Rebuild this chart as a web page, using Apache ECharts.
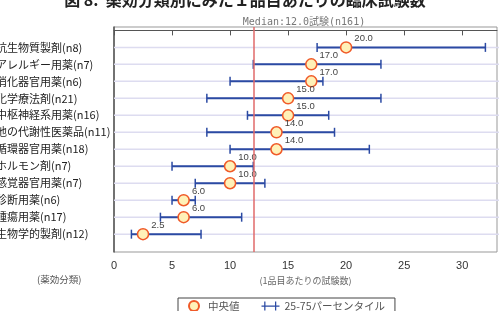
<!DOCTYPE html>
<html>
<head>
<meta charset="utf-8">
<script src="https://cdn.jsdelivr.net/npm/echarts@6/dist/echarts.min.js"></script>
<style>
  html, body { margin: 0; padding: 0; background: #fff; }
  #chart { width: 499px; height: 311px; }
</style>
</head>
<body>
<div id="chart"></div>
<script>
// 薬効分類 (上から順)
const categories = [
  '抗生物質製剤(n8)',
  'アレルギー用薬(n7)',
  '消化器官用薬(n6)',
  '化学療法剤(n21)',
  '中枢神経系用薬(n16)',
  '他の代謝性医薬品(n11)',
  '循環器官用薬(n18)',
  'ホルモン剤(n7)',
  '感覚器官用薬(n7)',
  '診断用薬(n6)',
  '腫瘍用薬(n17)',
  '生物学的製剤(n12)'
]
const medians = [20, 17, 17, 15, 15, 14, 14, 10, 10, 6, 6, 2.5]
const q25 = [17.5, 12, 10, 8, 11.5, 8, 10, 5, 7, 5, 4, 1.5]
const q75 = [32, 23, 18, 23, 18.5, 19, 22, 12, 13, 7, 11, 7.5]
const xTicks = [0, 5, 10, 15, 20, 25, 30]
const overallMedian = 12

const BLUE = '#2b4aa3'
const JP = '"Noto Sans CJK JP", sans-serif'

const chart = echarts.init(document.getElementById('chart'))

const rows = categories.map((c, i) => i + 1)

const option = {
  animation: false,
  title: [
    {
      text: 'Median:12.0試験(n161)',
      left: 299, top: 12, textAlign: 'center',
      textStyle: { fontFamily: '"DejaVu Sans Mono", "Noto Sans CJK JP", monospace', fontSize: 10, fontWeight: 'normal', color: '#777' }
    },
    {
      text: '(薬効分類)',
      left: 32, top: 270,
      textStyle: { fontFamily: JP, fontSize: 9.5, fontWeight: 'normal', color: '#555' }
    }
  ],
  graphic: [
    {
      type: 'text', x: 245, y: 0,
      style: {
        text: '図 8.  薬効分類別にみた１品目あたりの臨床試験数',
        align: 'center', verticalAlign: 'middle',
        font: 'bold 16px "Noto Sans CJK JP", sans-serif', fill: '#222'
      }
    }
  ],
  legend: {
    left: 178, top: 298,
    padding: [2, 10, 6, 10],
    itemGap: 22,
    itemWidth: 18, itemHeight: 10,
    borderColor: '#444', borderWidth: 1,
    textStyle: { fontFamily: JP, fontSize: 10.5, color: '#555' },
    data: [
      { name: '中央値', icon: 'circle' },
      { name: '25-75パーセンタイル', icon: 'path://M0,4.4h20v1.4h-20z M3,0h1.4v10h-1.4z M15,0h1.4v10h-1.4z' }
    ]
  },
  grid: {
    left: 114, right: 2, top: 27, bottom: 59,
    outerBoundsMode: 'none',
    containLabel: false,
    show: true, borderColor: '#999', borderWidth: 1
  },
  xAxis: {
    type: 'value', min: 0, max: 33,
    name: '(1品目あたりの試験数)',
    nameLocation: 'middle', nameGap: 24,
    nameTextStyle: { fontFamily: JP, fontSize: 9, color: '#666' },
    axisLine: { show: true, lineStyle: { color: '#555' } },
    axisTick: { show: true, length: 5, customValues: xTicks, lineStyle: { color: '#555' } },
    axisLabel: { customValues: xTicks, margin: 8, fontSize: 11, color: '#333', fontFamily: 'Liberation Sans, sans-serif' },
    splitLine: { show: false }
  },
  yAxis: {
    type: 'value', inverse: true, min: -0.2, max: 13.05,
    axisLine: { show: true, lineStyle: { color: '#555', width: 1.5 } },
    axisTick: { show: false },
    splitLine: { show: false },
    axisLabel: {
      customValues: rows,
      align: 'left', margin: 118,
      fontFamily: JP, fontSize: 11, color: '#222',
      formatter: v => categories[v - 1] || ''
    }
  },
  series: [
    {
      // 横の補助線 + 全体中央値
      type: 'custom', z: 1, silent: true,
      data: rows.map(r => [r]),
      encode: { y: 0 },
      renderItem(params, api) {
        const cs = params.coordSys
        const y = api.coord([0, api.value(0)])[1]
        return {
          type: 'line',
          shape: { x1: cs.x, y1: y, x2: cs.x + cs.width + 2, y2: y },
          style: { stroke: '#dddcf0', lineWidth: 1.5 }
        }
      },
      markLine: {
        silent: true, symbol: 'none',
        label: { show: false },
        lineStyle: { color: '#e06a6a', width: 1.5, type: 'solid' },
        data: [{ xAxis: overallMedian }]
      }
    },
    {
      name: '25-75パーセンタイル',
      type: 'custom', z: 3,
      itemStyle: { color: BLUE },
      data: rows.map((r, i) => [r, q25[i], q75[i]]),
      encode: { y: 0, x: [1, 2] },
      renderItem(params, api) {
        const r = api.value(0)
        const a = api.coord([api.value(1), r])
        const b = api.coord([api.value(2), r])
        const h = 4.5
        return {
          type: 'group',
          children: [
            { type: 'line', shape: { x1: a[0], y1: a[1], x2: b[0], y2: b[1] }, style: { stroke: BLUE, lineWidth: 2 } },
            { type: 'line', shape: { x1: a[0], y1: a[1] - h, x2: a[0], y2: a[1] + h }, style: { stroke: BLUE, lineWidth: 1.5 } },
            { type: 'line', shape: { x1: b[0], y1: b[1] - h, x2: b[0], y2: b[1] + h }, style: { stroke: BLUE, lineWidth: 1.5 } }
          ]
        }
      }
    },
    {
      name: '中央値',
      type: 'scatter', z: 4,
      symbol: 'circle', symbolSize: 11,
      itemStyle: { color: '#fff1b8', borderColor: '#f05a28', borderWidth: 1.5, opacity: 1 },
      data: rows.map((r, i) => [medians[i], r]),
      label: {
        show: true, position: 'right', offset: [-3, -9],
        fontSize: 9.5, color: '#444', fontFamily: 'Liberation Sans, sans-serif',
        formatter: p => p.value[0].toFixed(1)
      }
    }
  ]
}

chart.setOption(option)
</script>
</body>
</html>
